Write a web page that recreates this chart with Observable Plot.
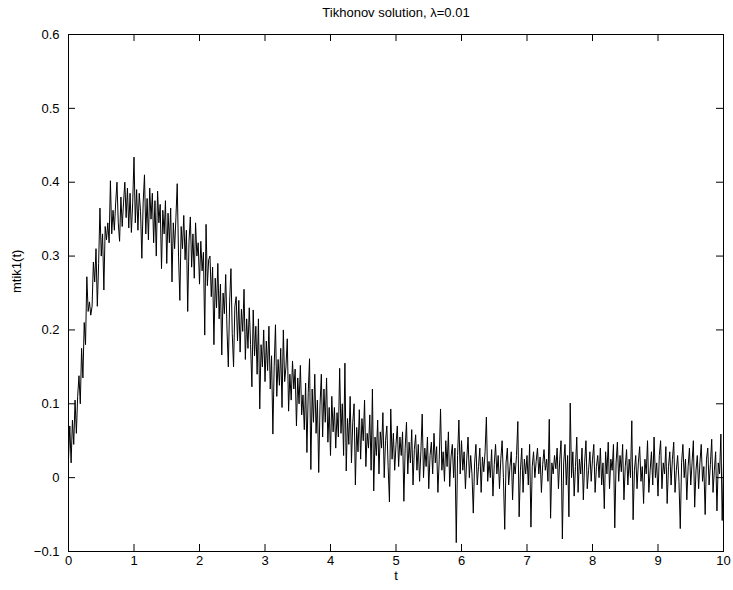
<!DOCTYPE html>
<html><head><meta charset="utf-8">
<script src="https://cdn.jsdelivr.net/npm/d3@7"></script>
<script src="https://cdn.jsdelivr.net/npm/@observablehq/plot@0.6"></script>
<style>html,body{margin:0;padding:0;background:#fff;overflow:hidden}#chart svg{display:block}</style>
</head><body><div id="chart"></div>
<script>
const title = "Tikhonov solution, λ=0.01";
const xLabel = "t";
const yLabel = "mtik1(t)";
const xTicks = [0,1,2,3,4,5,6,7,8,9,10];
const xTickLabels = ["0","1","2","3","4","5","6","7","8","9","10"];
const yTicks = [-0.1,0,0.1,0.2,0.3,0.4,0.5,0.6];
const yTickLabels = ["\u22120.1","0","0.1","0.2","0.3","0.4","0.5","0.6"];

// sample spacing in t
const dt = 0.02;
// mtik1(t) values, in thousandths, one array per unit of t
const seg0 = [25,70,20,78,45,105,60,110,138,100,175,135,210,180,272,225,238,220,232,292,265,310,232,290,365,300,330,254,340,322,345,318,402,330,362,335,372,400,345,320,380,340,372,400,352,392,338,385,332,372];
const seg1 = [434,345,390,335,385,360,297,372,410,330,378,322,392,350,385,318,375,300,388,345,370,283,362,330,375,290,358,318,365,265,345,310,352,398,300,240,340,310,355,295,335,225,320,353,285,330,270,345,300,318];
const seg2 = [262,320,280,305,193,343,260,295,300,245,285,180,270,230,290,215,262,166,250,222,275,200,150,238,283,195,150,232,245,185,240,170,228,198,255,160,215,175,230,180,123,227,165,205,140,215,93,180,150,200];
const seg3 = [130,185,145,205,120,165,59,150,207,110,160,125,175,95,200,130,150,188,90,140,105,158,120,147,70,135,100,152,85,112,65,128,34,115,161,11,120,75,140,60,105,7,98,140,55,120,75,135,48,95];
const seg4 = [30,110,62,95,40,88,55,148,60,100,30,155,9,80,45,110,20,75,100,-10,68,35,92,25,80,50,105,15,60,40,85,10,120,-18,55,30,78,5,62,40,88,0,50,70,15,-33,93,25,60,10];
const seg5 = [45,70,15,55,30,62,-32,40,75,5,48,20,65,-10,38,58,10,45,-5,35,86,0,40,15,55,-15,30,48,5,60,20,42,-20,25,93,10,35,-5,50,15,62,-12,28,45,0,40,-88,30,78,5];
const seg6 = [50,10,35,-15,25,55,0,30,5,-48,20,45,-10,15,40,-20,28,8,35,82,-5,22,0,38,-25,18,45,5,30,-15,25,50,0,-70,20,40,-10,15,35,-30,20,5,30,76,-53,10,40,-20,25,5];
const seg7 = [30,-10,45,-67,15,35,0,22,40,5,28,-20,18,38,10,25,-5,79,-55,20,5,30,12,40,-15,25,50,-83,20,45,-10,30,-53,101,0,35,-25,15,55,-20,25,5,40,-30,20,50,-15,10,35,-5];
const seg8 = [25,45,-20,15,30,0,40,-10,20,-42,35,5,48,-15,25,10,45,-68,20,48,-5,30,8,45,-30,15,38,-10,25,0,77,-57,10,30,-15,20,42,-5,15,-35,25,5,50,-20,10,35,-10,55,0,20];
const seg9 = [-25,30,50,-15,20,5,42,-35,15,35,-10,25,48,-20,10,30,-5,-69,20,45,0,25,-30,15,40,-10,20,50,-40,10,30,-15,20,45,-5,15,-50,25,40,-10,18,52,-20,10,35,-45,20,5,59,-58];
const segEnd = [20];

const values = [...seg0,...seg1,...seg2,...seg3,...seg4,...seg5,...seg6,...seg7,...seg8,...seg9,...segEnd];
const data = values.map((v, i) => ({t: i * dt, y: v / 1000}));

const W = 733, H = 590, mL = 68, mR = 10, mT = 34, mB = 39;
const fw = W - mL - mR, fh = H - mT - mB, tk = 7;
const font = "'Liberation Sans', Arial, Helvetica, sans-serif";

const chart = Plot.plot({
  width: W, height: H,
  marginLeft: mL, marginRight: mR, marginTop: mT, marginBottom: mB,
  style: {fontFamily: font, fontSize: "13px", background: "white", color: "black"},
  x: {domain: [0, 10]},
  y: {domain: [-0.1, 0.6]},
  marks: [
    Plot.line(data, {x: "t", y: "y", stroke: "black", strokeWidth: 1}),
    Plot.ruleX(xTicks, {x: d => d, insetTop: fh - tk, stroke: "black"}),
    Plot.ruleX(xTicks, {x: d => d, insetBottom: fh - tk, stroke: "black"}),
    Plot.ruleY(yTicks, {y: d => d, insetRight: fw - tk, stroke: "black"}),
    Plot.ruleY(yTicks, {y: d => d, insetLeft: fw - tk, stroke: "black"}),
    Plot.frame({stroke: "black", strokeWidth: 1}),
    Plot.axisX({ticks: xTicks, anchor: "bottom", tickSize: 0, tickPadding: 4, label: null,
      tickFormat: d => xTickLabels[xTicks.indexOf(d)]}),
    Plot.axisY({ticks: yTicks, anchor: "left", tickSize: 0, tickPadding: 9, label: null,
      tickFormat: d => yTickLabels[yTicks.indexOf(d)]}),
    Plot.text([xLabel], {frameAnchor: "bottom", dy: 28, fontSize: 13, fill: "black"}),
    Plot.text([yLabel], {frameAnchor: "left", dx: -52, rotate: -90, fontSize: 13, fill: "black"}),
    Plot.text([title], {frameAnchor: "top", dy: -27, fontSize: 13, fill: "black"})
  ]
});
document.getElementById("chart").appendChild(chart);
</script>
</body></html>
